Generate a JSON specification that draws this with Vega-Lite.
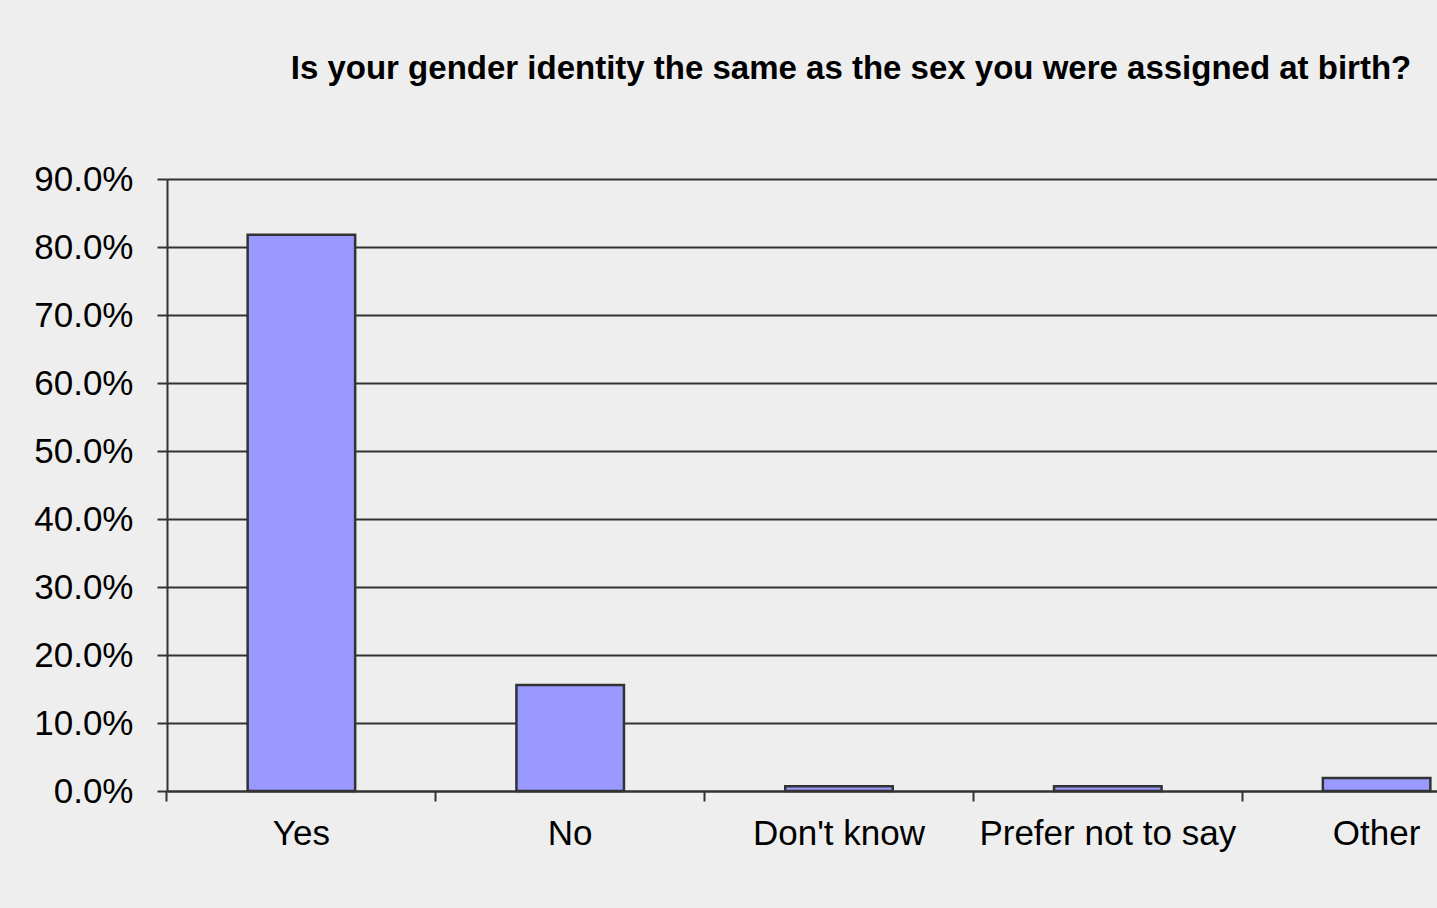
{
  "$schema": "https://vega.github.io/schema/vega-lite/v6.json",
  "width": 1344,
  "height": 612,
  "autosize": {"type": "none"},
  "padding": {"left": 167, "top": 179, "right": 0, "bottom": 117},
  "background": "#EEEEEE",
  "title": {
    "text": "Is your gender identity the same as the sex you were assigned at birth?",
    "fontSize": 33,
    "fontWeight": "bold",
    "font": "Liberation Sans",
    "color": "#000000",
    "anchor": "middle",
    "dx": 12,
    "offset": 50,
    "baseline": "alphabetic",
    "limit": 0
  },
  "data": {
    "values": [
      {"answer": "Yes", "pct": 0.818},
      {"answer": "No", "pct": 0.156},
      {"answer": "Don't know", "pct": 0.007},
      {"answer": "Prefer not to say", "pct": 0.007},
      {"answer": "Other", "pct": 0.019}
    ]
  },
  "layer": [
    {
      "mark": {"type": "bar", "fill": "#9999FF", "stroke": "#333333", "strokeWidth": 2.5},
      "encoding": {
        "x": {
          "field": "answer",
          "type": "nominal",
          "sort": null,
          "scale": {"paddingInner": 0.6, "paddingOuter": 0.3},
          "axis": {
            "orient": "bottom",
            "title": null,
            "labelAngle": 0,
            "ticks": false,
            "tickSize": 0,
            "domain": false,
            "grid": false,
            "labelFontSize": 35,
            "labelFont": "Liberation Sans",
            "labelColor": "#000000",
            "labelPadding": 25,
            "labelBaseline": "top",
            "labelLimit": 0
          }
        },
        "y": {
          "field": "pct",
          "type": "quantitative",
          "scale": {"domain": [0, 0.9]},
          "axis": {
            "title": null,
            "values": [0, 0.1, 0.2, 0.3, 0.4, 0.5, 0.6, 0.7, 0.8, 0.9],
            "format": ".1%",
            "grid": true,
            "gridColor": "#333333",
            "gridWidth": 2,
            "gridOpacity": 1,
            "domain": true,
            "domainColor": "#333333",
            "domainWidth": 2,
            "ticks": true,
            "tickSize": 10,
            "tickColor": "#333333",
            "tickWidth": 2,
            "labelFontSize": 35,
            "labelFont": "Liberation Sans",
            "labelColor": "#000000",
            "labelPadding": 24
          }
        }
      }
    },
    {
      "mark": {"type": "bar", "opacity": 0},
      "encoding": {
        "x": {
          "field": "answer",
          "type": "nominal",
          "sort": null,
          "axis": {
            "orient": "bottom",
            "title": null,
            "labels": false,
            "ticks": true,
            "tickSize": 10,
            "tickColor": "#333333",
            "tickWidth": 2,
            "bandPosition": -0.75,
            "domain": true,
            "domainColor": "#333333",
            "domainWidth": 2,
            "grid": false
          }
        },
        "y": {"field": "pct", "type": "quantitative"}
      }
    }
  ],
  "resolve": {"axis": {"x": "independent"}},
  "config": {"view": {"stroke": null}}
}
